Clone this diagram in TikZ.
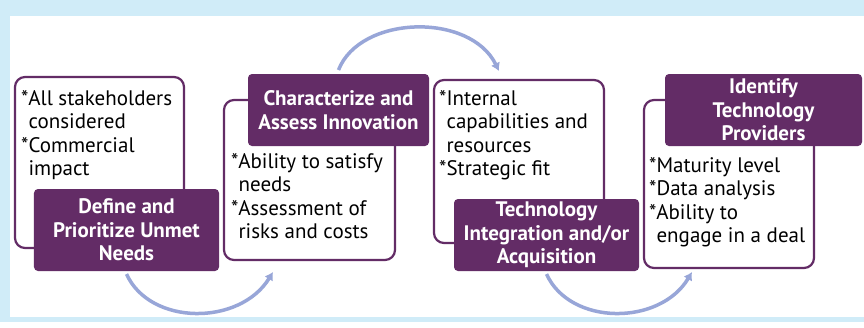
\documentclass[tikz,border=0pt]{standalone}
\usepackage{fontspec}
\setmainfont{PT Sans}
\usetikzlibrary{arrows.meta,positioning}
\definecolor{plum}{RGB}{99,44,102}
\definecolor{periwinkle}{RGB}{152,166,216}
\definecolor{skyback}{RGB}{208,236,248}

\tikzset{
notebox/.style={draw=plum,line width=2.2bp,rounded corners=10bp,fill=white,inner sep=0pt,outer sep=0pt},
headbox/.style={fill=plum,rounded corners=4bp,text=white,align=center,inner sep=0pt,outer sep=0pt,font=\bfseries\fontsize{21bp}{23.5bp}\selectfont},
listtext/.style={align=left,inner sep=0pt,anchor=north west,font=\fontsize{21bp}{23.5bp}\selectfont},
cyclearrow/.style={draw=periwinkle,line width=3.5bp,-{Latex[length=8bp,width=10bp]}}
}

\begin{document}
\begin{tikzpicture}[x=1bp,y=-1bp]

\fill[skyback] (0,0) rectangle (864,322);
\fill[white] (10,16) rectangle (864,317);

% outlined boxes with the lists
\node[notebox,minimum width=169bp,minimum height=171bp] (note1) at (99.5,162.5) {};
\node[notebox,minimum width=171bp,minimum height=160bp] (note2) at (309.5,180) {};
\node[notebox,minimum width=170bp,minimum height=163bp] (note3) at (519,161.5) {};
\node[notebox,minimum width=170bp,minimum height=168bp] (note4) at (729,184) {};

% filled step titles
\node[headbox,minimum width=185bp,minimum height=82bp] (head1) at (126.5,230) {Define and\\Prioritize Unmet\\Needs};
\node[headbox,minimum width=181bp,minimum height=72bp] (head2) at (338.5,110) {Characterize and\\Assess Innovation};
\node[headbox,minimum width=185bp,minimum height=72bp] (head3) at (546.5,235) {Technology\\Integration and/or\\Acquisition};
\node[headbox,minimum width=197bp,minimum height=72bp] (head4) at (763.5,110) {Identify\\Technology\\Providers};

\node[listtext] (list1) at (21,90) {*All stakeholders\\\phantom{*}considered\\*Commercial\\\phantom{*}impact};
\node[listtext] (list2) at (231,153) {*Ability to satisfy\\\phantom{*}needs\\*Assessment of\\\phantom{*}risks and costs};
\node[listtext] (list3) at (439,90) {*Internal\\\phantom{*}capabilities and\\\phantom{*}resources\\*Strategic fit};
\node[listtext] (list4) at (649,157) {*Maturity level\\*Data analysis\\*Ability to\\\phantom{*}engage in a deal};

% arrows between the steps
\coordinate (a1) at ([yshift=-3bp]head1.south);
\coordinate (b1) at (273,272);
\coordinate (a2) at ([yshift=4bp]head2.north);
\coordinate (b2) at (499,71);
\coordinate (a3) at ([yshift=-3bp]head3.south);
\coordinate (b3) at (692,272);
\draw[cyclearrow] (a1) .. controls (150,326) and (240,326) .. (b1);
\draw[cyclearrow] (a2) .. controls (360,15) and (470,12) .. (b2);
\draw[cyclearrow] (a3) .. controls (570,326) and (660,326) .. (b3);

\end{tikzpicture}
\end{document}
